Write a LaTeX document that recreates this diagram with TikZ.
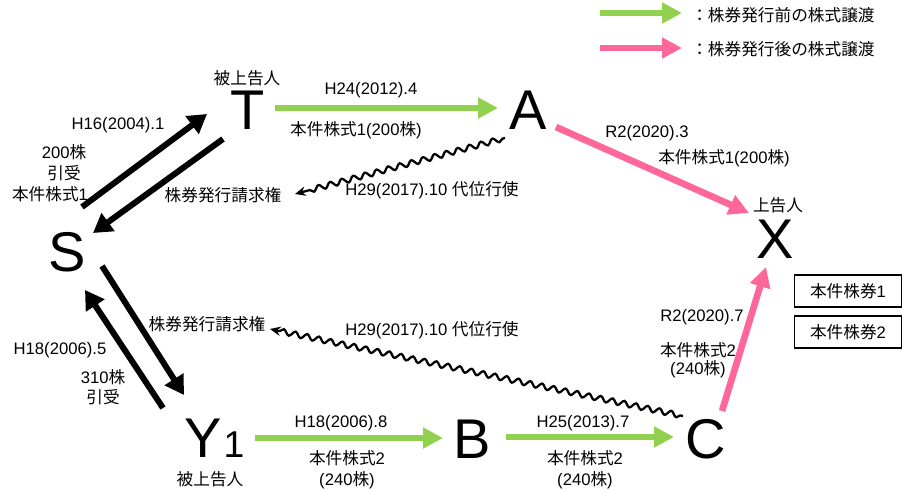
\documentclass[tikz,border=0pt]{standalone}
\usepackage{fontspec}
\setmainfont{Liberation Sans}
\newfontfamily\jpf{Noto Sans CJK JP}
\newcommand\J[1]{{\jpf #1}}
\usetikzlibrary{arrows.meta,decorations.pathmorphing}
\definecolor{grn}{RGB}{146,208,80}
\definecolor{pnk}{RGB}{255,102,153}
\begin{document}
\begin{tikzpicture}[x=0.75pt,y=-0.75pt,
  lbl/.style={font=\fontsize{12.5}{15}\selectfont, inner sep=0pt, align=center},
  big/.style={font=\fontsize{42}{42}\selectfont, inner sep=0pt},
  blk/.style={line width=4.5pt, -{Triangle[length=14pt,width=16pt]}},
  gr/.style={draw=grn, line width=5pt, -{Triangle[length=15pt,width=15pt]}, grn},
  pk/.style={draw=pnk, line width=5pt, -{Triangle[length=15pt,width=15pt]}, pnk},
  wavy/.style={line width=1.7pt, -{Stealth[length=8pt,width=7pt]},
    decorate, decoration={snake, amplitude=2pt, segment length=9pt, pre length=2pt, post length=7pt}},
  box/.style={draw, line width=0.8pt, minimum width=80pt, minimum height=24pt, inner sep=0pt, font=\fontsize{12.5}{15}\selectfont}
]
\useasboundingbox (0,0) rectangle (907,491);

% letters
\node[big] (T) at (248,110) {T};
\node[big] (A) at (528,110) {A};
\node[big] (S) at (67,252) {S};
\node[big] (X) at (775,239) {X};
\node[big] (Y) at (203,438) {Y};
\node[inner sep=0pt, anchor=base west, font=\fontsize{28}{28}\selectfont] (one) at ([xshift=1pt]Y.base east) {1};
\node[big] (B) at (472,439) {B};
\node[big] (C) at (706,439) {C};

\node[lbl] (tr) at (247,78) {\J{被上告人}};
\node[lbl] (yr) at (210,479) {\J{被上告人}};
\node[lbl] (xr) at (778,205) {\J{上告人}};

% legend
\coordinate (lg1s) at (600,13); \coordinate (lg1e) at (682,13);
\coordinate (lg2s) at (600,48); \coordinate (lg2e) at (682,48);
\draw[gr] (lg1s) -- (lg1e);
\draw[pk] (lg2s) -- (lg2e);
\node[lbl, anchor=west] (lt1) at (691,15) {\J{：株券発行前の株式譲渡}};
\node[lbl, anchor=west] (lt2) at (691,49) {\J{：株券発行後の株式譲渡}};

% boxes
\node[box] (b1) at (848,291) {\J{本件株券}1};
\node[box] (b2) at (848,332) {\J{本件株券}2};

% S <-> T
\coordinate (st1) at (82,207); \coordinate (st2) at (207,114);
\coordinate (ts1) at (223,139); \coordinate (ts2) at (93,233);
\draw[blk] (st1) -- (st2);
\draw[blk] (ts1) -- (ts2);
\node[lbl] (l1) at (118,125) {H16(2004).1};
\node[lbl] (l2) at (64,152) {200\J{株}};
\node[lbl] (l3) at (64,173) {\J{引受}};
\node[lbl] (l4) at (50,194) {\J{本件株式}1};
\node[lbl] (req1) at (223,195) {\J{株券発行請求権}};

% S <-> Y1
\coordinate (sy1) at (102,266); \coordinate (sy2) at (184,395);
\coordinate (ys1) at (163,408); \coordinate (ys2) at (85,290);
\draw[blk] (sy1) -- (sy2);
\draw[blk] (ys1) -- (ys2);
\node[lbl] (l5) at (60,350) {H18(2006).5};
\node[lbl] (l6) at (103,377) {310\J{株}};
\node[lbl] (l7) at (103,397) {\J{引受}};
\node[lbl] (req2) at (207,324) {\J{株券発行請求権}};

% T -> A
\coordinate (ta1) at (275,108); \coordinate (ta2) at (498,108);
\draw[gr] (ta1) -- (ta2);
\node[lbl] (l8) at (371,90) {H24(2012).4};
\node[lbl] (l9) at (356,130) {\J{本件株式}1(200\J{株})};

% Y1 -> B -> C
\coordinate (yb1) at (255,438); \coordinate (yb2) at (443,438);
\coordinate (bc1) at (506,437); \coordinate (bc2) at (674,437);
\draw[gr] (yb1) -- (yb2);
\draw[gr] (bc1) -- (bc2);
\node[lbl] (l10) at (341,423) {H18(2006).8};
\node[lbl] (l11) at (347,458) {\J{本件株式}2};
\node[lbl] (l12) at (347,480) {(240\J{株})};
\node[lbl] (l13) at (583,423) {H25(2013).7};
\node[lbl] (l14) at (585,458) {\J{本件株式}2};
\node[lbl] (l15) at (585,480) {(240\J{株})};

% A -> X, C -> X
\coordinate (ax1) at (556,127); \coordinate (ax2) at (749,213);
\coordinate (cx1) at (722,411); \coordinate (cx2) at (766,267);
\draw[pk] (ax1) -- (ax2);
\draw[pk] (cx1) -- (cx2);
\node[lbl] (l16) at (647,133) {R2(2020).3};
\node[lbl] (l17) at (724,158) {\J{本件株式}1(200\J{株})};
\node[lbl] (l18) at (702,317) {R2(2020).7};
\node[lbl] (l19) at (698,350) {\J{本件株式}2};
\node[lbl] (l20) at (698,369) {(240\J{株})};

% wavy
\coordinate (w1s) at (505,138); \coordinate (w1e) at (295,194);
\coordinate (w2s) at (683,416); \coordinate (w2e) at (270,329);
\draw[wavy] (w1s) -- (w1e);
\draw[wavy] (w2s) -- (w2e);
\node[lbl] (l21) at (432,190) {H29(2017).10 \J{代位行使}};
\node[lbl] (l22) at (432,330) {H29(2017).10 \J{代位行使}};
\end{tikzpicture}
\end{document}
